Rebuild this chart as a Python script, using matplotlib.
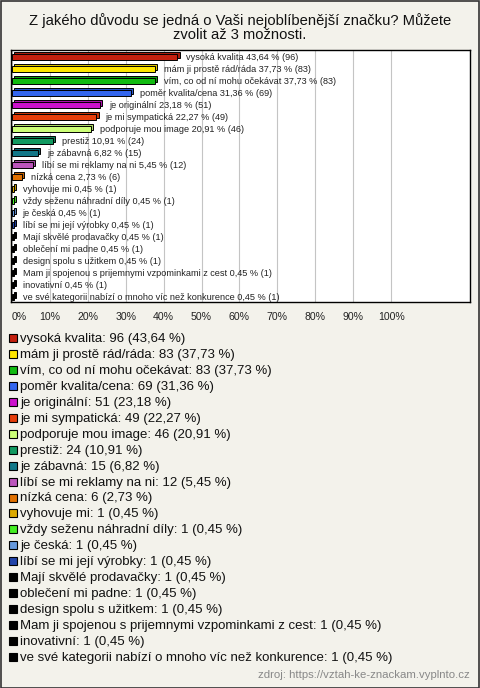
import matplotlib
matplotlib.use("Agg")
import matplotlib.pyplot as plt
from matplotlib.patches import Rectangle

plt.rcParams['font.family'] = ['Liberation Sans', 'DejaVu Sans']

# -----------------------------
# Data
# -----------------------------
title = "Z jakého důvodu se jedná o Vaši nejoblíbenější značku? Můžete\nzvolit až 3 možnosti."

answers = [
    "vysoká kvalita",
    "mám ji prostě rád/ráda",
    "vím, co od ní mohu očekávat",
    "poměr kvalita/cena",
    "je originální",
    "je mi sympatická",
    "podporuje mou image",
    "prestiž",
    "je zábavná",
    "líbí se mi reklamy na ni",
    "nízká cena",
    "vyhovuje mi",
    "vždy seženu náhradní díly",
    "je česká",
    "líbí se mi její výrobky",
    "Mají skvělé prodavačky",
    "oblečení mi padne",
    "design spolu s užitkem",
    "Mam ji spojenou s prijemnymi vzpominkami z cest",
    "inovativní",
    "ve své kategorii nabízí o mnoho víc než konkurence",
]
counts = [96, 83, 83, 69, 51, 49, 46, 24, 15, 12, 6, 1, 1, 1, 1, 1, 1, 1, 1, 1, 1]
percents = [43.64, 37.73, 37.73, 31.36, 23.18, 22.27, 20.91, 10.91, 6.82, 5.45,
            2.73, 0.45, 0.45, 0.45, 0.45, 0.45, 0.45, 0.45, 0.45, 0.45, 0.45]
colors = ['#c4200e', '#ffe600', '#11bb11', '#3366ee', '#cc11cc', '#e63d0a',
          '#ccff77', '#119960', '#117788', '#bb55bb', '#e07000', '#ddaa00',
          '#44ee22', '#6699dd', '#2244aa', '#000000', '#000000', '#000000',
          '#000000', '#000000', '#000000']
x_ticks = [0, 10, 20, 30, 40, 50, 60, 70, 80, 90, 100]
source = "zdroj: https://vztah-ke-znackam.vyplnto.cz"


def fmt(v):
    return f"{v:.2f}".replace(".", ",")


def darker(c, f=0.85):
    r, g, b = matplotlib.colors.to_rgb(c)
    return (r * f, g * f, b * f)


# -----------------------------
# Figure
# -----------------------------
W, H = 480, 688
BG = '#f3f2eb'
fig = plt.figure(figsize=(W / 100, H / 100), dpi=100, facecolor=BG)
fig.patches.append(Rectangle((0.5 / W, 0.5 / H), 1 - 1.5 / W, 1 - 1.5 / H,
                             transform=fig.transFigure, fill=False,
                             edgecolor='#333333', linewidth=1.2))

fig.text(0.5, 1 - 28 / H, title, ha='center', va='center', fontsize=10.6,
         linespacing=1.0, color='#111111')

ax = fig.add_axes([11 / W, 1 - 302 / H, (470 - 11) / W, (302 - 50) / H])
ax.set_facecolor('white')
for s in ax.spines.values():
    s.set_color('black')
    s.set_linewidth(1.0)

n = len(answers)
ys = list(range(n))
h = 0.5
dx = 0.55
dy = 0.15

# back face (3D depth), then front face
ax.barh([y - dy for y in ys], percents, left=dx, height=h,
        color=[darker(c) for c in colors], edgecolor='black', linewidth=0.7, zorder=3)
ax.barh(ys, percents, height=h, color=colors, edgecolor='black', linewidth=0.7, zorder=4)

for y, a, p, c in zip(ys, answers, percents, counts):
    ax.annotate(f"{a} {fmt(p)} % ({c})", xy=(p, y), xytext=(9, 0),
                textcoords='offset pixels', ha='left', va='center',
                fontsize=6.6, color='#222222', zorder=5)

ax.set_xlim(-0.26, 120.8)
ax.set_ylim(n - 1 + 5 / 12, -7 / 12)
ax.set_xticks(x_ticks)
ax.set_xticklabels([f"{t}%" for t in x_ticks], fontsize=7.6, color='#222222')
ax.get_xticklabels()[0].set_horizontalalignment('left')
ax.tick_params(axis='x', length=0, pad=7)
ax.set_yticks([])
ax.grid(axis='x', color='#c4c4c4', linewidth=0.8, zorder=0)
ax.set_axisbelow(True)

# -----------------------------
# Legend
# -----------------------------
y0 = 339
step = 15.95
for i, (a, p, c, col) in enumerate(zip(answers, percents, counts, colors)):
    yc = y0 + i * step
    fig.patches.append(Rectangle((9 / W, 1 - (yc + 3) / H), 8 / W, 8 / H,
                                 transform=fig.transFigure, facecolor=col,
                                 edgecolor='black', linewidth=0.8))
    fig.text(20 / W, 1 - yc / H, f"{a}: {c} ({fmt(p)} %)", ha='left', va='center',
             fontsize=9.5, color='#111111')

fig.text(470 / W, 1 - 675 / H, source, ha='right', va='center', fontsize=8.2,
         color='#888888')

fig.savefig("out.png", dpi=100, facecolor=BG)
